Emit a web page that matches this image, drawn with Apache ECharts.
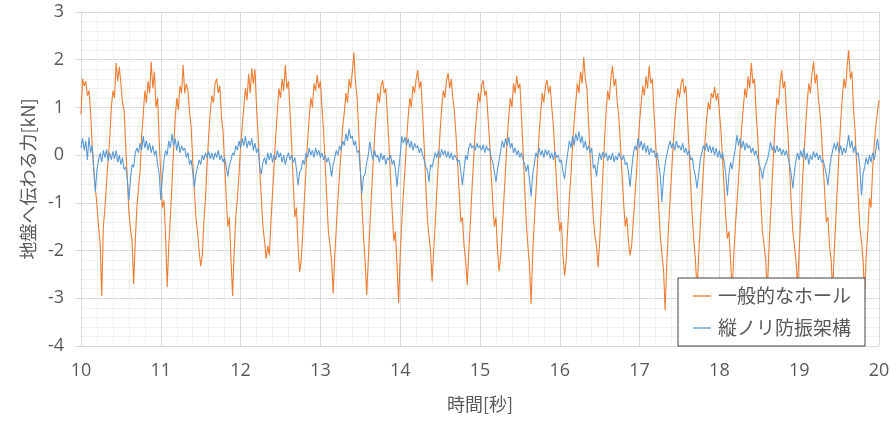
<!DOCTYPE html>
<html>
<head>
<meta charset="utf-8">
<script src="https://cdn.jsdelivr.net/npm/echarts@6/dist/echarts.min.js"></script>
<style>
html,body{margin:0;padding:0;background:#fff;}
#c{width:896px;height:421px;}
</style>
</head>
<body>
<div id="c"></div>
<script>
// Sampling grid (seconds)
var T_START = 10.0;
var T_STEP = 0.02;

var seriesNames = ['一般的なホール', '縦ノリ防振架構'];

// 一般的なホール [kN], one value per 0.02 s from 10.00 to 20.00
var holeValues = [
0.85,1.6,1.45,1.55,1.25,1.35,0.9,0.2,-0.3,-0.7,
-1.05,-1.5,-1.85,-2.95,-1.5,-1.1,-0.6,-0.1,0.35,1.0,
1.35,1.2,1.93,1.55,1.85,1.5,1.1,0.95,0.2,-0.45,
-1.2,-1.55,-1.8,-2.7,-1.8,-1.1,-0.7,-0.35,0.4,0.85,
1.35,1.1,1.55,1.3,1.96,1.4,1.75,1.0,1.2,0.3,
-0.4,-1.1,-0.95,-1.7,-2.77,-1.9,-1.3,-0.6,0.1,0.75,
1.2,0.95,1.45,1.3,1.89,1.3,1.5,1.35,0.9,0.6,
-0.1,-0.7,-1.3,-1.6,-2.0,-2.33,-2.1,-1.4,-0.9,-0.2,
0.4,0.9,1.25,1.1,1.5,1.6,1.3,1.45,0.8,0.5,
-0.2,-0.9,-1.5,-1.3,-2.2,-2.95,-2.0,-1.3,-0.9,-0.4,
0.2,0.6,1.0,1.4,1.15,1.7,1.3,1.82,1.5,1.8,
1.0,0.4,-0.3,-0.9,-1.5,-1.8,-2.17,-1.9,-2.1,-1.4,
-0.8,-0.2,0.4,0.9,1.4,1.2,1.6,1.35,1.89,1.4,
1.55,0.9,0.2,-0.6,-1.3,-1.1,-1.9,-2.45,-2.2,-1.6,
-0.9,-0.3,0.3,0.8,1.2,1.0,1.5,1.35,1.68,1.4,
1.55,1.0,0.5,-0.2,-0.9,-1.6,-1.9,-2.2,-2.9,-2.1,
-1.5,-0.9,-0.4,0.1,0.6,0.9,1.3,1.1,1.6,1.4,
1.75,2.15,1.5,1.2,0.5,-0.3,-1.0,-1.7,-2.2,-2.93,
-2.2,-1.5,-0.8,-0.2,0.4,0.9,1.3,1.1,1.45,1.57,
1.3,1.4,0.8,0.2,-0.5,-1.2,-1.8,-1.6,-2.3,-3.1,
-2.1,-1.4,-0.8,-0.3,0.3,0.8,1.2,1.0,1.45,1.3,
1.6,1.78,1.4,1.55,0.9,0.2,-0.6,-1.3,-1.7,-2.0,
-2.65,-2.0,-1.4,-0.7,-0.1,0.5,1.0,1.35,1.2,1.55,
1.72,1.4,1.6,1.2,0.9,0.4,-0.2,-0.8,-1.4,-1.3,
-1.9,-2.2,-2.72,-2.0,-1.4,-0.7,-0.1,0.5,0.9,1.3,
1.1,1.45,1.57,1.25,1.35,0.8,0.3,-0.4,-1.0,-1.5,
-1.3,-2.0,-2.43,-2.1,-1.5,-0.9,-0.3,0.3,0.8,1.2,
1.0,1.5,1.3,1.66,1.4,1.5,0.8,0.1,-0.7,-1.4,
-1.9,-2.3,-3.12,-2.1,-1.4,-0.8,-0.2,0.4,0.9,1.3,
1.1,1.45,1.57,1.3,1.45,1.0,0.6,0.0,-0.6,-1.2,
-1.6,-1.4,-2.1,-2.52,-2.2,-1.5,-0.9,-0.4,0.2,0.7,
1.1,1.5,1.3,1.75,1.5,2.05,1.6,1.4,0.7,0.0,
-0.7,-1.3,-1.7,-1.9,-2.35,-1.8,-1.1,-0.4,0.3,0.9,
1.35,1.15,1.6,1.87,1.45,1.6,1.1,0.8,0.2,-0.4,
-1.0,-1.5,-1.3,-1.8,-2.1,-1.9,-1.4,-0.9,-0.4,0.2,
0.7,1.1,1.45,1.25,1.65,1.4,1.87,1.5,1.6,0.9,
0.3,-0.4,-1.1,-1.7,-2.1,-2.4,-3.25,-2.3,-1.6,-1.0,
-0.4,0.2,0.7,1.1,1.4,1.2,1.5,1.61,1.3,1.45,
0.8,0.1,-0.6,-1.3,-1.8,-2.2,-2.85,-2.1,-1.5,-0.9,
-0.3,0.3,0.75,1.1,0.95,1.3,1.2,1.43,1.15,1.3,
0.9,0.5,-0.1,-0.7,-1.3,-1.75,-1.6,-2.2,-2.9,-2.1,
-1.5,-1.0,-0.5,0.1,0.6,1.0,1.4,1.2,1.65,1.4,
1.93,1.5,1.6,0.9,0.4,-0.3,-1.0,-1.6,-1.9,-2.2,
-2.9,-2.0,-1.3,-0.6,0.1,0.7,1.2,1.05,1.5,1.78,
1.4,1.55,0.9,0.4,-0.3,-1.0,-1.6,-1.9,-2.2,-2.75,
-2.0,-1.3,-0.6,0.0,0.6,1.1,1.5,1.3,1.7,1.96,
1.5,1.7,1.2,0.9,0.4,-0.2,-0.8,-1.4,-1.3,-1.9,
-2.2,-2.85,-2.0,-1.3,-0.6,0.1,0.7,1.2,1.6,1.4,
1.85,2.2,1.6,1.75,1.0,0.5,-0.2,-0.9,-1.5,-1.8,
-2.2,-2.9,-2.1,-1.6,-0.9,-1.1,-0.3,0.2,0.6,0.9,
1.15
];

// 縦ノリ防振架構 [kN], one value per 0.02 s from 10.00 to 20.00
var frameValues = [
0.15,0.35,0.1,0.3,-0.1,0.38,0.05,0.2,-0.3,-0.77,
-0.3,-0.1,0.05,-0.15,0.1,-0.05,0.12,-0.12,0.05,-0.1,
0.08,-0.08,0.1,-0.15,0.0,-0.2,-0.05,-0.3,-0.25,-0.5,
-0.94,-0.5,-0.2,-0.25,0.05,0.15,0.05,0.25,0.1,0.4,
0.15,0.3,0.1,0.25,0.05,0.2,0.0,0.1,-0.2,-0.4,
-0.94,-0.45,-0.1,0.1,0.0,0.3,0.15,0.45,0.2,0.35,
0.1,0.3,0.05,0.2,0.1,0.15,-0.05,0.05,-0.2,-0.1,
-0.35,-0.67,-0.4,-0.25,-0.1,-0.2,0.0,-0.1,0.05,-0.05,
0.08,-0.08,0.05,-0.1,0.05,-0.05,0.1,-0.1,0.0,-0.15,
-0.05,-0.25,-0.45,-0.2,-0.1,0.05,0.0,0.2,0.1,0.3,
0.15,0.35,0.2,0.4,0.15,0.3,0.2,0.35,0.1,0.25,
0.05,0.15,-0.25,-0.4,-0.15,-0.05,-0.2,0.05,-0.1,0.05,
-0.15,0.0,-0.1,0.1,-0.05,0.05,-0.15,0.0,-0.2,-0.05,
0.05,-0.1,0.0,-0.15,-0.05,-0.3,-0.63,-0.35,-0.3,-0.1,
-0.2,0.05,-0.05,0.15,0.0,0.1,-0.05,0.15,0.0,0.1,
-0.05,0.05,-0.1,0.0,-0.15,-0.05,-0.2,-0.45,-0.2,-0.05,
0.1,0.0,0.2,0.1,0.3,0.2,0.45,0.3,0.55,0.35,
0.4,0.2,0.3,0.05,0.1,-0.3,-0.8,-0.45,-0.4,-0.15,
0.0,0.28,0.05,-0.1,0.1,-0.05,0.0,-0.15,0.05,-0.1,
0.0,-0.2,-0.05,-0.1,0.0,-0.2,-0.1,-0.3,-0.66,-0.3,
0.0,0.4,0.25,0.38,0.2,0.35,0.15,0.3,0.1,0.25,
0.15,0.2,0.05,0.15,0.0,-0.1,-0.25,-0.3,-0.56,-0.2,
-0.25,-0.1,0.05,-0.05,0.1,-0.05,0.12,0.0,0.1,-0.05,
0.08,-0.07,0.05,-0.1,0.0,-0.05,-0.15,-0.1,-0.35,-0.63,
-0.3,0.0,-0.1,0.15,0.25,0.15,0.2,0.1,0.25,0.15,
0.2,0.1,0.22,0.05,0.2,0.1,0.15,-0.05,-0.15,-0.35,
-0.56,-0.3,-0.1,0.1,0.3,0.15,0.35,0.2,0.38,0.15,
0.25,0.05,0.15,0.0,0.1,-0.05,0.05,-0.1,-0.2,-0.35,
-0.2,-0.5,-0.87,-0.4,-0.2,0.05,-0.05,0.15,0.0,0.1,
-0.05,0.12,0.0,0.1,-0.07,0.05,-0.1,0.08,-0.05,0.0,
-0.15,-0.1,-0.35,-0.5,-0.2,0.05,0.3,0.15,0.4,0.2,
0.45,0.3,0.5,0.25,0.4,0.15,0.3,0.1,0.2,0.05,
0.15,-0.28,-0.2,-0.45,-0.15,0.05,-0.1,0.07,-0.05,0.05,
-0.12,0.0,-0.1,0.05,-0.14,-0.02,-0.1,0.05,-0.05,-0.1,
0.0,-0.2,-0.15,-0.35,-0.66,-0.3,0.0,0.2,0.1,0.35,
0.15,0.3,0.1,0.25,0.05,0.2,0.0,0.15,0.05,0.1,
-0.05,0.05,-0.2,-0.45,-0.98,-0.45,-0.2,0.0,0.15,0.3,
0.15,0.25,0.1,0.3,0.15,0.2,0.1,0.25,0.05,0.15,
0.0,0.1,-0.1,-0.05,-0.3,-0.45,-0.7,-0.4,-0.1,0.05,
0.2,0.1,0.25,0.07,0.2,0.05,0.18,0.0,0.15,-0.05,
0.1,-0.07,0.05,-0.15,-0.4,-0.85,-0.4,-0.15,-0.3,-0.05,
0.15,0.42,0.2,0.35,0.15,0.3,0.1,0.25,0.15,0.2,
0.05,0.15,0.0,0.1,-0.05,-0.2,-0.3,-0.5,-0.28,-0.3,
-0.1,0.05,0.28,0.1,0.2,0.05,0.2,0.07,0.15,0.0,
0.12,0.0,0.1,-0.05,-0.2,-0.4,-0.7,-0.35,-0.1,0.05,
-0.1,0.1,-0.05,0.15,-0.1,0.05,-0.2,0.0,-0.1,0.08,
-0.05,0.05,-0.1,0.0,-0.15,-0.1,-0.25,-0.4,-0.63,-0.3,
-0.05,0.1,0.25,0.1,0.28,0.05,0.2,0.0,0.15,0.05,
0.2,0.42,0.15,0.3,0.05,0.2,0.0,0.05,-0.25,-0.84,
-0.4,-0.25,-0.05,-0.2,0.0,-0.15,0.05,-0.1,0.1,0.35,
0.1
];

function toPairs(vals) {
  var out = [];
  for (var i = 0; i < vals.length; i++) {
    out.push([+(T_START + i * T_STEP).toFixed(2), vals[i]]);
  }
  return out;
}

var chart = echarts.init(document.getElementById('c'), null, {renderer: 'canvas'});
var txt = '#595959';
var numFont = '"Open Sans", "Noto Sans", sans-serif';
var jpFont = '"Noto Sans CJK JP", sans-serif';

chart.setOption({
  animation: false,
  backgroundColor: '#ffffff',
  grid: {left: 81, right: 17, top: 12, bottom: 75, containLabel: false},
  legend: {
    orient: 'vertical',
    left: 678, top: 278,
    width: 195,
    padding: [7, 14, 7, 15],
    itemGap: 10,
    icon: 'rect',
    itemWidth: 18, itemHeight: 1.3,
    textStyle: {color: txt, fontSize: 19, fontFamily: jpFont, lineHeight: 22, padding: [0, 0, 0, 2]},
    backgroundColor: '#ffffff',
    borderColor: '#404040',
    borderWidth: 1,
    data: seriesNames
  },
  xAxis: {
    type: 'value', min: 10, max: 20, interval: 1,
    name: '時間[秒]', nameLocation: 'middle', nameGap: 49,
    nameTextStyle: {color: txt, fontSize: 18, fontFamily: jpFont},
    axisLine: {show: true, lineStyle: {color: '#d9d9d9'}},
    axisTick: {show: true, length: 6, lineStyle: {color: '#d9d9d9'}},
    axisLabel: {color: txt, fontSize: 18, fontFamily: numFont, margin: 16},
    splitLine: {show: true, lineStyle: {color: '#d9d9d9'}},
    minorTick: {show: false, splitNumber: 5},
    minorSplitLine: {show: true, lineStyle: {color: '#f0f0f0'}}
  },
  yAxis: {
    type: 'value', min: -4, max: 3, interval: 1,
    name: '地盤へ伝わる力[kN]', nameLocation: 'middle', nameGap: 44,
    nameTextStyle: {color: txt, fontSize: 18, fontFamily: jpFont},
    axisLine: {show: true, lineStyle: {color: '#d9d9d9'}},
    axisTick: {show: true, length: 6, lineStyle: {color: '#d9d9d9'}},
    axisLabel: {color: txt, fontSize: 18, fontFamily: numFont, margin: 17},
    splitLine: {show: true, lineStyle: {color: '#d9d9d9'}},
    minorTick: {show: false, splitNumber: 5},
    minorSplitLine: {show: true, lineStyle: {color: '#f0f0f0'}}
  },
  series: [
    {
      name: seriesNames[0], type: 'line', data: toPairs(holeValues),
      symbol: 'none', showSymbol: false,
      lineStyle: {color: '#ED7D31', width: 1.1},
      itemStyle: {color: '#ED7D31'}
    },
    {
      name: seriesNames[1], type: 'line', data: toPairs(frameValues),
      symbol: 'none', showSymbol: false,
      lineStyle: {color: '#5B9BD5', width: 1.1},
      itemStyle: {color: '#5B9BD5'}
    }
  ]
});
</script>
</body>
</html>
